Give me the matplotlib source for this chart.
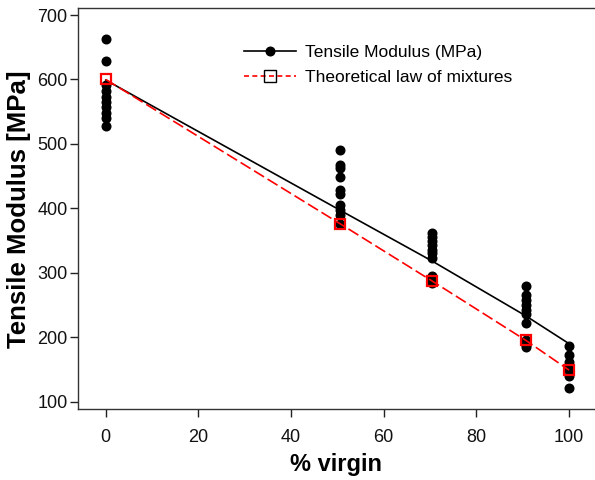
import matplotlib
matplotlib.use("Agg")
import matplotlib.pyplot as plt
from matplotlib.lines import Line2D

# ---- data ----
virgin_pct = [0, 50.6, 70.5, 90.7, 100]
measured = [
    [662, 629, 592, 582, 573, 565, 557, 548, 540, 528],
    [491, 468, 462, 449, 428, 422, 405, 397, 390, 376],
    [362, 356, 349, 343, 336, 330, 323, 295, 290, 284],
    [280, 265, 258, 250, 242, 236, 222, 195, 188, 185],
    [187, 172, 162, 155, 149, 140, 121],
]
mean_modulus = [599, 397, 318, 233, 190]
theoretical = [600, 376, 287, 195, 149]
x_ticks = [0, 20, 40, 60, 80, 100]
y_ticks = [100, 200, 300, 400, 500, 600, 700]

regular = ['Liberation Sans', 'DejaVu Sans']
bold = ['Liberation Sans', 'DejaVu Sans']

fig = plt.figure(figsize=(5.95, 4.8), dpi=100)
ax = fig.add_axes([77.8 / 595, 1 - 409.3 / 480, 1 - 77.8 / 595, (409.3 - 8.3) / 480])

for xv, vals in zip(virgin_pct, measured):
    ax.plot([xv] * len(vals), vals, 'o', color='black', markersize=6.2,
            linestyle='none', zorder=3)

ax.plot(virgin_pct, mean_modulus, '-', color='black', lw=1.2, zorder=2)
ax.plot(virgin_pct, theoretical, linestyle=(0, (7, 2.5)), color='red', lw=1.2,
        zorder=4)
ax.plot(virgin_pct, theoretical, 's', markerfacecolor='none',
        markeredgecolor='red', markeredgewidth=1.6, markersize=6.5,
        linestyle='none', zorder=5)

ax.set_xlim(-6.04, 105.6)
ax.set_ylim(88.2, 710.4)
ax.set_xticks(x_ticks)
ax.set_yticks(y_ticks)
ax.tick_params(direction='out', length=6, width=1, labelsize=13, pad=1.5,
               colors='#222222')
for lab in ax.get_xticklabels() + ax.get_yticklabels():
    lab.set_family(regular)
    lab.set_color('#111111')
ax.tick_params(axis='x', pad=8)

for s in ['left', 'bottom', 'top']:
    ax.spines[s].set_linewidth(1.0)
    ax.spines[s].set_color('#333333')
ax.spines['right'].set_visible(False)

ax.set_xlabel('% virgin', fontsize=17, fontweight='bold', family=bold, labelpad=5)
ax.set_ylabel('Tensile Modulus [MPa]', fontsize=18.5, fontweight='bold',
              family=bold, labelpad=4)

handles = [
    Line2D([], [], color='black', lw=1.2, marker='o', markersize=6.2),
    Line2D([], [], color='red', lw=1.2, linestyle=(0, (3, 2)), marker='s',
           markerfacecolor='none', markeredgecolor='black',
           markeredgewidth=1.0, markersize=8),
]
fig.legend(handles, ['Tensile Modulus (MPa)', 'Theoretical law of mixtures'],
           loc='upper left', bbox_to_anchor=(244 / 595, 1 - 45 / 480),
           frameon=False, borderpad=0, borderaxespad=0, handlelength=3.0,
           handletextpad=0.5, labelspacing=0.55,
           prop={'family': regular, 'size': 12.5})

fig.savefig('out.png', dpi=100)
